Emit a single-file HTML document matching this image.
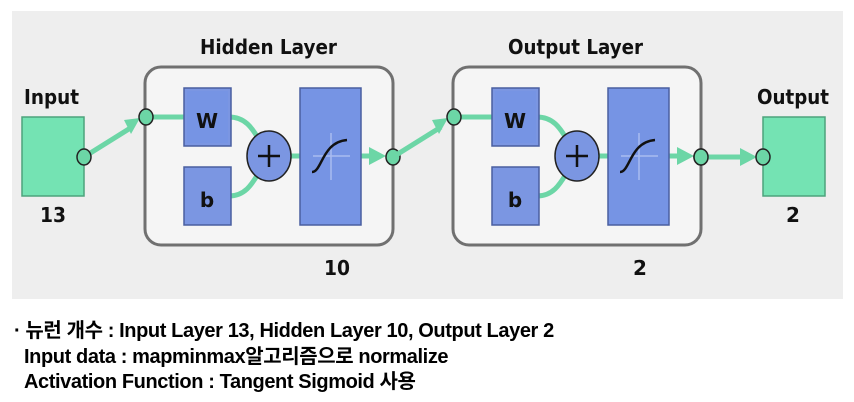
<!DOCTYPE html>
<html><head><meta charset="utf-8"><style>
body{margin:0;background:#fff;width:854px;height:402px;overflow:hidden}
svg{position:absolute;left:0;top:0}
.t{font-family:"DejaVu Sans","Liberation Sans",sans-serif;font-weight:bold;fill:#111}
.k{position:absolute;left:14px;font-family:"Liberation Sans","Noto Sans CJK KR",sans-serif;font-weight:bold;font-size:20px;color:#000;letter-spacing:-0.4px;white-space:nowrap}
</style></head><body>
<svg width="854" height="402" viewBox="0 0 854 402">
<defs>
<g id="layer">
  <rect x="145" y="67" width="248" height="178" rx="16" fill="#f5f5f5" stroke="#707070" stroke-width="3"/>
  <path d="M146 117 H186" stroke="#6cd6a6" stroke-width="5" fill="none"/>
  <path d="M229 117 C245 117 252 128 258 138" stroke="#6cd6a6" stroke-width="5" fill="none"/>
  <path d="M229 196 C245 196 252 184 258 174" stroke="#6cd6a6" stroke-width="5" fill="none"/>
  <path d="M290 156 H302" stroke="#6cd6a6" stroke-width="5" fill="none"/>
  <path d="M360 156 H372" stroke="#6cd6a6" stroke-width="5" fill="none"/>
  <polygon points="369,147 386,156 369,165" fill="#6cd6a6"/>
  <rect x="184" y="88" width="47" height="58" fill="#7b96e2" stroke="#4a5ea0" stroke-width="1.5"/>
  <rect x="187" y="91" width="41" height="52" fill="#7694e4"/>
  <rect x="184" y="167" width="47" height="58" fill="#7b96e2" stroke="#4a5ea0" stroke-width="1.5"/>
  <text x="207" y="128" text-anchor="middle" class="t" font-size="20">W</text>
  <text x="207" y="207" text-anchor="middle" class="t" font-size="20">b</text>
  <ellipse cx="269" cy="156" rx="22" ry="25" fill="#7b96e2" stroke="#222" stroke-width="1.5"/>
  <path d="M269 145 V167 M258 156 H280" stroke="#111" stroke-width="2.5"/>
  <rect x="300" y="88" width="61" height="137" fill="#7694e4" stroke="#4a5ea0" stroke-width="1.5"/>
  <path d="M331 133 V180 M313 156 H350" stroke="#a9bbf0" stroke-width="1.5"/>
  <path d="M312 172 C322 172 322 142 347 140" stroke="#111" stroke-width="2.5" fill="none"/>
  <ellipse cx="146" cy="117" rx="7" ry="8" fill="#6cd6a6" stroke="#222" stroke-width="1.5"/>
  <ellipse cx="393" cy="157" rx="7" ry="8" fill="#6cd6a6" stroke="#222" stroke-width="1.5"/>
</g>
</defs>
<rect x="12" y="11" width="831" height="288" fill="#eeeeee"/>
<rect x="22" y="117" width="62" height="79" fill="#74e3b3" stroke="#4da37c" stroke-width="1.5"/>
<text x="24" y="104" class="t" font-size="20" textLength="55" lengthAdjust="spacingAndGlyphs">Input</text>
<text x="53" y="222" text-anchor="middle" class="t" font-size="20" textLength="26" lengthAdjust="spacingAndGlyphs">13</text>
<path d="M84 157 L132 127" stroke="#6cd6a6" stroke-width="5"/>
<polygon points="124,120 140,118 131,134" fill="#6cd6a6"/>
<ellipse cx="84" cy="157" rx="7" ry="8" fill="#6cd6a6" stroke="#222" stroke-width="1.5"/>
<use href="#layer"/>
<text x="200" y="54" class="t" font-size="20" textLength="137" lengthAdjust="spacingAndGlyphs">Hidden Layer</text>
<text x="337" y="275" text-anchor="middle" class="t" font-size="20" textLength="26" lengthAdjust="spacingAndGlyphs">10</text>
<path d="M393 157 L441 127" stroke="#6cd6a6" stroke-width="5"/>
<polygon points="432,120 448,118 439,134" fill="#6cd6a6"/>
<use href="#layer" transform="translate(308,0)"/>
<text x="508" y="54" class="t" font-size="20" textLength="135" lengthAdjust="spacingAndGlyphs">Output Layer</text>
<text x="640" y="275" text-anchor="middle" class="t" font-size="20">2</text>
<rect x="763" y="117" width="62" height="79" fill="#74e3b3" stroke="#4da37c" stroke-width="1.5"/>
<path d="M701 157 H748" stroke="#6cd6a6" stroke-width="5"/>
<polygon points="740,148 757,157 740,166" fill="#6cd6a6"/>
<ellipse cx="763" cy="157" rx="7" ry="8" fill="#6cd6a6" stroke="#222" stroke-width="1.5"/>
<ellipse cx="701" cy="157" rx="7" ry="8" fill="#6cd6a6" stroke="#222" stroke-width="1.5"/>
<text x="757" y="104" class="t" font-size="20" textLength="72" lengthAdjust="spacingAndGlyphs">Output</text>
<text x="793" y="222" text-anchor="middle" class="t" font-size="20">2</text>
</svg>
<div class="k" style="top:314px">· 뉴런 개수 : Input Layer 13, Hidden Layer 10, Output Layer 2</div>
<div class="k" style="top:340px;left:24px">Input data : mapminmax알고리즘으로 normalize</div>
<div class="k" style="top:365px;left:24px">Activation Function : Tangent Sigmoid 사용</div>
</body></html>
